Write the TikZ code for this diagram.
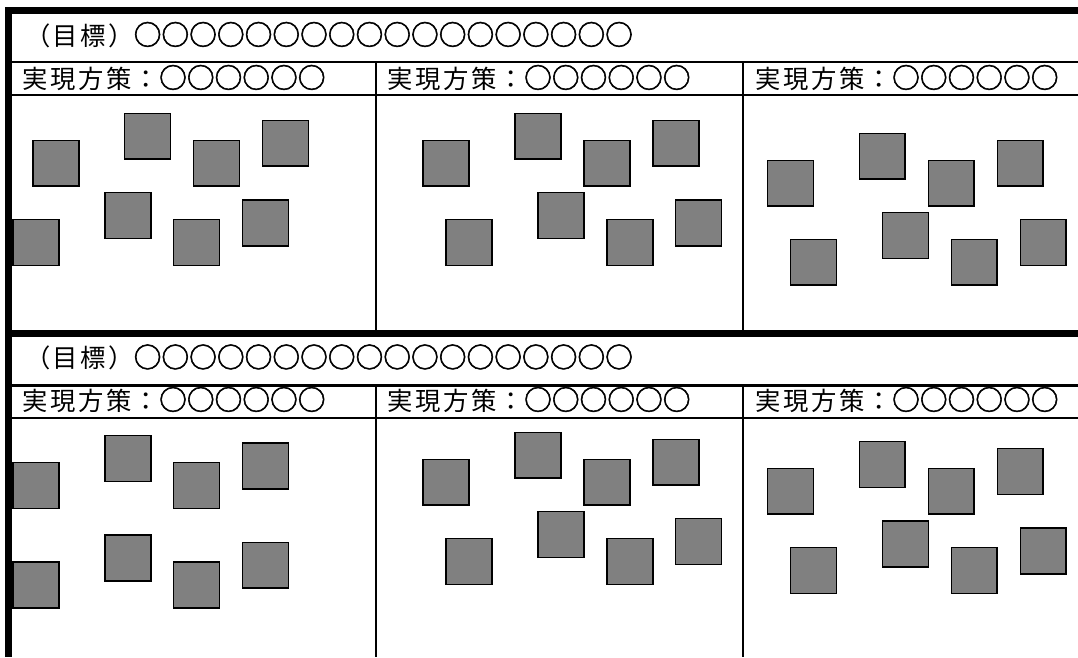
\documentclass[tikz,border=0pt]{standalone}
\usepackage{fontspec}
\newfontfamily\jp[LetterSpace=9.4]{Noto Sans CJK JP}
\newfontfamily\jpc[FakeBold=2]{Noto Sans CJK JP}
\definecolor{sqgray}{RGB}{128,128,128}
\newcommand\marus[1]{{\jpc\fontsize{20.8pt}{24pt}\selectfont #1}}
\begin{document}
\begin{tikzpicture}[x=0.75pt,y=-0.75pt,
  sq/.style={rectangle,draw=black,fill=sqgray,line width=1pt,minimum size=34.4pt,inner sep=0pt,anchor=north west},
  heavyrule/.style={line width=4.9pt,line cap=butt},
  lightrule/.style={line width=1.6pt,line cap=butt},
  hd/.style={font=\jp\fontsize{19pt}{24pt}\selectfont,anchor=base west,inner sep=0pt,text=black}]
\useasboundingbox (0,0) rectangle (1078,657);
\fill[white] (0,0) rectangle (1078,657);

% squares, six panels
\foreach \px/\py [count=\i] in {
  31.7/139, 123.3/112, 192.3/139, 261.3/119, 11.7/218.3, 103.7/191.3, 172.3/218.3, 241.3/198.7}
  \node[sq] (a\i) at (\px+0.6,\py+0.6) {};
\foreach \px/\py [count=\i] in {
  421.7/139, 513.7/112, 582.7/139, 651.7/119, 444.7/218.3, 536.7/191.3, 605.7/218.3, 674.3/198.7}
  \node[sq] (b\i) at (\px+0.6,\py+0.6) {};
\foreach \px/\py [count=\i] in {
  766.3/159, 858/132, 927/159, 996/139, 789.3/238, 881.3/211.3, 950/238, 1019/218.3}
  \node[sq] (c\i) at (\px+0.6,\py+0.6) {};
\foreach \px/\py [count=\i] in {
  11.7/461.3, 103.7/434.3, 172.3/461.3, 241.3/441.7, 11.7/560.7, 103.7/533.7, 172.3/560.7, 241.3/541}
  \node[sq] (d\i) at (\px+0.6,\py+0.6) {};
\foreach \px/\py [count=\i] in {
  421.7/458, 513.7/431, 582.7/458, 651.7/438, 444.7/537.3, 536.7/510.3, 605.7/537.3, 674.3/517.3}
  \node[sq] (e\i) at (\px+0.6,\py+0.6) {};
\foreach \px/\py [count=\i] in {
  766.3/467, 858/440.3, 927/467, 996/447.3, 789.3/546.3, 881.3/519.7, 950/546.3, 1019/526.7}
  \node[sq] (f\i) at (\px+0.6,\py+0.6) {};

% table rules
\coordinate (T1) at (5,10.7);    \coordinate (T2) at (1078,10.7);
\coordinate (M1) at (5,333.5);   \coordinate (M2) at (1078,333.5);
\coordinate (L1) at (8.3,7.3);   \coordinate (L2) at (8.3,657);
\draw[lightrule] (12,62) -- (1078,62);
\draw[lightrule] (12,95) -- (1078,95);
\draw[lightrule] (12,385.5) -- (1078,385.5);
\draw[lightrule] (12,418.3) -- (1078,418.3);
\draw[lightrule] (376,62) -- (376,333.5);
\draw[lightrule] (742.8,62) -- (742.8,333.5);
\draw[lightrule] (376,385.5) -- (376,657);
\draw[lightrule] (742.8,385.5) -- (742.8,657);
\draw[heavyrule] (T1) -- (T2);
\draw[heavyrule] (M1) -- (M2);
\draw[heavyrule] (L1) -- (L2);

% texts
\node[hd] (g1) at (25,45) {（目標）\marus{○○○○○○○○○○○○○○○○○○}};
\node[hd] (s11) at (22.7,88) {実現方策：\marus{○○○○○○}};
\node[hd] (s12) at (387.7,88) {実現方策：\marus{○○○○○○}};
\node[hd] (s13) at (755.7,88) {実現方策：\marus{○○○○○○}};
\node[hd] (g2) at (25,367.5) {（目標）\marus{○○○○○○○○○○○○○○○○○○}};
\node[hd] (s21) at (22.7,410) {実現方策：\marus{○○○○○○}};
\node[hd] (s22) at (387.7,410) {実現方策：\marus{○○○○○○}};
\node[hd] (s23) at (755.7,410) {実現方策：\marus{○○○○○○}};
\end{tikzpicture}
\end{document}
